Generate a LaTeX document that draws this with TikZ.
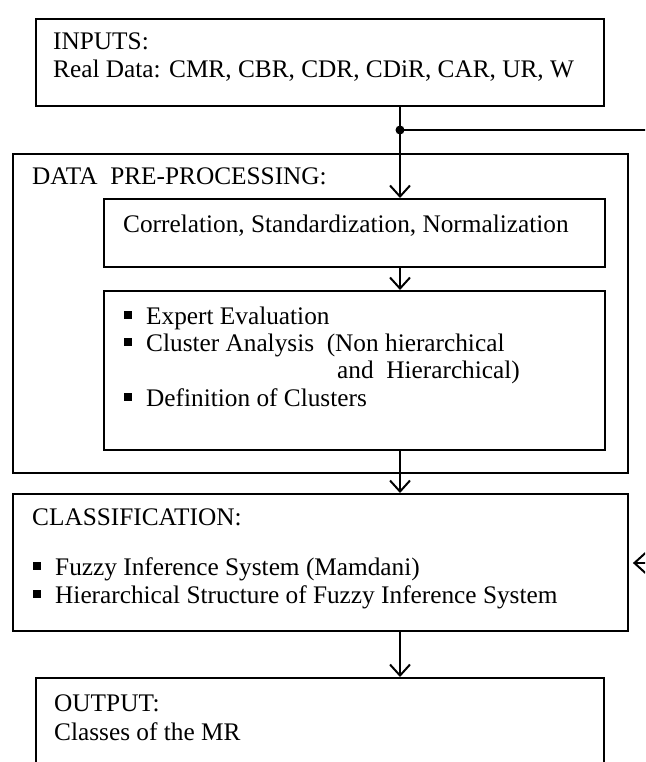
\documentclass[tikz,border=0pt]{standalone}
\usepackage{fontspec}
\setmainfont{Liberation Serif}
\usetikzlibrary{arrows.meta}
\newcommand\sqbullet{\makebox[22pt][l]{\rule[0.2em]{0.3em}{0.3em}}}
\begin{document}
\begin{tikzpicture}[x=1pt,y=-1pt,
  box/.style={draw, line width=1.9pt, rectangle, inner sep=0pt, anchor=north west},
  txt/.style={anchor=base west, inner sep=0pt, font=\fontsize{25.3}{27}\selectfont},
  link/.style={line width=2pt},
  arr/.style={line width=2pt, -{Straight Barb[length=11pt,width=20pt]}},
]
\useasboundingbox (0,0) rectangle (645,762);
\clip (0,0) rectangle (645,762);

% boxes
\node[box, minimum width=568pt, minimum height=87pt]  (inputs)  at (35,18)  {};
\node[box, minimum width=615pt, minimum height=319pt] (prep)    at (12,153) {};
\node[box, minimum width=501pt, minimum height=68pt]  (corr)    at (103,198) {};
\node[box, minimum width=501pt, minimum height=159pt] (expert)  at (103,290) {};
\node[box, minimum width=615pt, minimum height=137pt] (classif) at (12,493) {};
\node[box, minimum width=568pt, minimum height=120pt] (output)  at (35,677) {};

% texts
\node[txt] (t1) at (53,50) {INPUTS:};
\node[txt] (t2) at (53,78) {Real Data: CMR, CBR, CDR, CDiR, CAR, UR, W};
\node[txt] (t3) at (32,185) {DATA\ \ PRE-PROCESSING:};
\node[txt] (t4) at (123,232) {Correlation, Standardization, Normalization};
\node[txt] (t5) at (124,324) {\sqbullet Expert Evaluation};
\node[txt] (t6) at (124,351) {\sqbullet Cluster Analysis\ \ (Non hierarchical};
\node[txt] (t7) at (337,378) {and\ \ Hierarchical)};
\node[txt] (t8) at (124,406) {\sqbullet Definition of Clusters};
\node[txt] (t9) at (32,525) {CLASSIFICATION:};
\node[txt] (t10) at (33,575) {\sqbullet Fuzzy Inference System (Mamdani)};
\node[txt] (t11) at (33,603) {\sqbullet Hierarchical Structure of Fuzzy Inference System};
\node[txt] (t12) at (54,711) {OUTPUT:};
\node[txt] (t13) at (54,740) {Classes of the MR};

% connectors
\coordinate (split) at (400,130);
\coordinate (fbtop) at (650,130);
\coordinate (fbin)  at (650,563);
\draw[link] (inputs.south -| split) -- (split);
\fill (split) circle[radius=4.5];
\draw[link] (split) -- (fbtop);
\draw[arr] (split) -- (corr.north -| split);
\draw[arr] (corr.south -| split) -- (expert.north -| split);
\draw[arr] (expert.south -| split) -- (classif.north -| split);
\draw[arr] (classif.south -| split) -- (output.north -| split);
\draw[arr, shorten >=4pt] (fbin) -- (classif.east |- fbin);
\end{tikzpicture}
\end{document}
